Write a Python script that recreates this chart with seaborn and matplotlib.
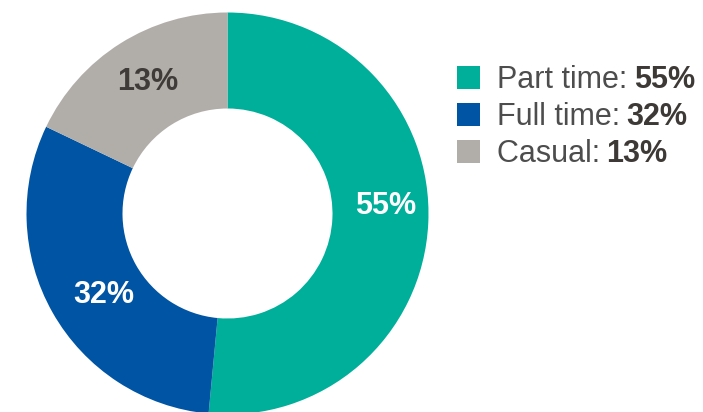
import matplotlib
matplotlib.use("Agg")
import matplotlib.pyplot as plt
import seaborn as sns
from matplotlib.patches import Rectangle

categories = ["Part time", "Full time", "Casual"]
values = [55, 32, 13]                 # printed percentages
arc_shares = [51.5, 30.6, 17.9]       # slice sizes as drawn in the reference
colors = ["#00AF9A", "#0054A4", "#B1ADA9"]
label_colors = ["white", "white", "#3F3B39"]

sns.set_theme(style="white")
plt.rcParams['font.family'] = ['Liberation Sans', 'DejaVu Sans']

W, H = 703, 412
fig = plt.figure(figsize=(W / 100, H / 100), dpi=100)
ax = fig.add_axes([0, 0, 1, 1])

cx, cy = 227.5, H - 213.5
R = 201
r_in = 105
wedges, _ = ax.pie(arc_shares, colors=colors, startangle=90, counterclock=False,
                   center=(cx, cy), radius=R,
                   wedgeprops=dict(width=R - r_in, linewidth=0))
ax.set_xlim(0, W)
ax.set_ylim(0, H)
ax.set_aspect('equal')
ax.axis('off')

FS = 22
offsets = [(386, 213.5), (104, 303), (148, 90)]
for (px, py), v, lc in zip(offsets, values, label_colors):
    ax.text(px, H - py, f"{v}%", color=lc, fontsize=FS, fontweight='bold',
            ha='center', va='baseline')

# legend
sq = 23
rows_y = [77.5, 114.5, 151.5]
baselines = [88, 125, 162]
fig.canvas.draw()
renderer = fig.canvas.get_renderer()
for cat, v, c, ry, bl in zip(categories, values, colors, rows_y, baselines):
    ax.add_patch(Rectangle((457, H - ry - sq / 2), sq, sq, color=c, lw=0))
    t = ax.text(497, H - bl, f"{cat}: ", color="#4D4D4D", fontsize=FS,
                ha='left', va='baseline')
    bb = t.get_window_extent(renderer=renderer)
    ax.text(bb.x1 - 2, H - bl, f"{v}%", color="#3D3936", fontsize=FS,
            fontweight='bold', ha='left', va='baseline')

fig.savefig("out.png", dpi=100, facecolor="white")
